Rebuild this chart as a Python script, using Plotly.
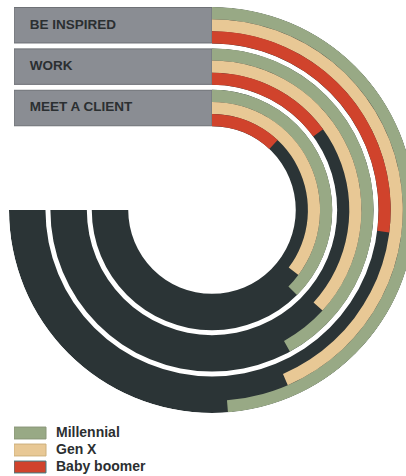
import plotly.graph_objects as go

groups = ["BE INSPIRED", "WORK", "MEET A CLIENT"]
generations = ["Millennial", "Gen X", "Baby boomer"]
# share per group, 100 = the full 270 degree track
millennial = [65, 56, 50]
gen_x = [58, 49, 47]
baby_boomer = [36, 20, 16]

colors = {"Millennial": "#98a985", "Gen X": "#e8c895", "Baby boomer": "#d0432c"}
edge_colors = {"Millennial": "#8a9678", "Gen X": "#cdb07c", "Baby boomer": "#3f7f86"}
track_color = "#2b3436"
box_color = "#8a8d93"
text_color = "#2b2f31"
font_family = "Liberation Sans Narrow, Arial Narrow, Liberation Sans, Arial, sans-serif"

W, H = 420, 476
cx, cy, R = 212, 210, 203      # centre / radius of the rings in px
r_max = 206.0
group_outer = [206, 164, 122]
group_thick = 37
ring = group_thick / 3
sweep = 270

fig = go.Figure()

# dark background tracks
fig.add_trace(go.Barpolar(
    r=[group_thick] * 3,
    base=[o - group_thick for o in group_outer],
    theta=[sweep / 2] * 3,
    width=[sweep] * 3,
    marker=dict(color=track_color, line=dict(width=0)),
    showlegend=False, hoverinfo="skip"))

for k, (gen, vals) in enumerate(zip(generations, [millennial, gen_x, baby_boomer])):
    deg = [v / 100 * sweep for v in vals]
    fig.add_trace(go.Barpolar(
        r=[ring] * 3,
        base=[o - (k + 1) * ring for o in group_outer],
        theta=[d / 2 for d in deg],
        width=deg,
        name=gen,
        marker=dict(color=colors[gen], line=dict(width=0)),
        showlegend=False, hoverinfo="skip"))

# label boxes
mid = [o - group_thick / 2 for o in group_outer]
fig.add_trace(go.Bar(
    x=[1] * 3, y=mid, width=[group_thick - 1] * 3, orientation="h",
    marker=dict(color=box_color, line=dict(color="#6d7075", width=1)),
    xaxis="x", yaxis="y", showlegend=False, hoverinfo="skip"))
fig.add_trace(go.Scatter(
    x=[0.08] * 3, y=mid, text=groups, mode="text", textposition="middle right",
    textfont=dict(family=font_family, size=13.5, color=text_color, weight="bold"),
    xaxis="x", yaxis="y", showlegend=False, hoverinfo="skip", cliponaxis=False))

# legend
fig.add_trace(go.Bar(
    x=[32] * 3, y=generations, width=0.7, orientation="h",
    marker=dict(color=[colors[g] for g in generations],
                line=dict(color=[edge_colors[g] for g in generations], width=1)),
    xaxis="x2", yaxis="y2", showlegend=False, hoverinfo="skip"))
fig.add_trace(go.Scatter(
    x=[42] * 3, y=generations, text=generations, mode="text", textposition="middle right",
    textfont=dict(family=font_family, size=14, color=text_color, weight="bold"),
    xaxis="x2", yaxis="y2", showlegend=False, hoverinfo="skip", cliponaxis=False))

hidden = dict(visible=False, fixedrange=True)
fig.update_layout(
    width=W, height=H,
    margin=dict(l=0, r=0, t=0, b=0),
    paper_bgcolor="white", plot_bgcolor="rgba(0,0,0,0)",
    showlegend=False,
    polar=dict(
        domain=dict(x=[(cx - R) / W, (cx + R) / W], y=[(H - cy - R) / H, (H - cy + R) / H]),
        bgcolor="rgba(0,0,0,0)",
        barmode="overlay",
        radialaxis=dict(visible=False, range=[0, r_max]),
        angularaxis=dict(visible=False, rotation=90, direction="clockwise"),
    ),
    xaxis=dict(domain=[14 / W, cx / W], range=[0, 1], **hidden),
    yaxis=dict(domain=[(H - cy) / H, (H - cy + R) / H], range=[0, r_max], **hidden),
    xaxis2=dict(domain=[14 / W, 214 / W], range=[0, 200], anchor="y2", **hidden),
    yaxis2=dict(domain=[0.5 / H, 51.5 / H], range=[2.5, -0.5], anchor="x2",
                type="category", categoryorder="array", categoryarray=generations, **hidden),
)

fig.write_html("out.html", config={"displayModeBar": False},
               post_script="document.body.style.margin='0';document.body.style.overflow='hidden';")
